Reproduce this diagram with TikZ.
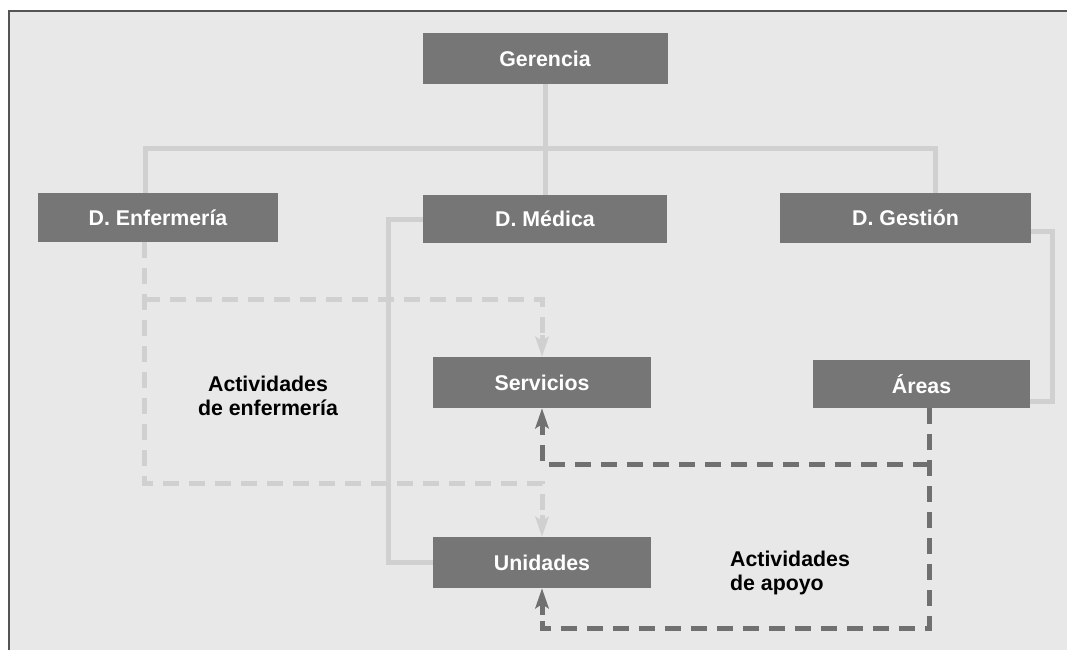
\documentclass[tikz,border=0pt]{standalone}
\usepackage{fontspec}
\setmainfont{Liberation Sans}
\usetikzlibrary{arrows.meta}
\definecolor{bg}{RGB}{232,232,232}
\definecolor{boxc}{RGB}{118,118,118}
\definecolor{lightl}{RGB}{208,208,208}
\definecolor{darkl}{RGB}{112,112,112}
\definecolor{framec}{RGB}{85,85,85}
\begin{document}
\begin{tikzpicture}[x=0.75pt,y=-0.75pt,
  box/.style={fill=boxc,draw=none,text=white,font=\fontsize{16}{18}\selectfont\bfseries,inner sep=0pt,anchor=center},
  tree/.style={draw=lightl,line width=3.75pt},
  ldash/.style={draw=lightl,line width=3.75pt,dash pattern=on 12pt off 7.5pt},
  ddash/.style={draw=darkl,line width=3.75pt,dash pattern=on 12pt off 7.5pt},
  larrow/.style={-{Stealth[length=15pt,width=10pt,inset=3pt]}},
  lbl/.style={font=\fontsize{16}{18}\selectfont\bfseries,text=black,inner sep=0pt}]
\useasboundingbox (0,0) rectangle (1067,650);
\fill[white] (0,0) rectangle (1067,650);
\fill[bg] (9,11) rectangle (1067,650);
\draw[framec,line width=1.5pt] (9,650) -- (9,11) -- (1067,11);

% nodes
\node[box,minimum width=245*0.75pt,minimum height=51*0.75pt] (ger) at (545,58.5) {Gerencia};
\node[box,minimum width=240*0.75pt,minimum height=49*0.75pt] (enf) at (158,217.5) {D. Enfermería};
\node[box,minimum width=244*0.75pt,minimum height=48*0.75pt] (med) at (545,219) {D. Médica};
\node[box,minimum width=251*0.75pt,minimum height=50*0.75pt] (ges) at (905.5,218) {D. Gestión};
\node[box,minimum width=218*0.75pt,minimum height=51*0.75pt] (ser) at (542,382.5) {Servicios};
\node[box,minimum width=217*0.75pt,minimum height=48*0.75pt] (are) at (921.5,384) {Áreas};
\node[box,minimum width=218*0.75pt,minimum height=51*0.75pt] (uni) at (542,562.5) {Unidades};

\coordinate (bar) at (545,148);
\coordinate (enfT) at (145,193);
\coordinate (gesT) at (935,193);

% tree
\begin{scope}[on background layer/.style={}]
\draw[tree] (ger.south) -- (bar) -- (med.north);
\draw[tree] (enf.north -| enfT) |- (bar) -| (ges.north -| gesT);
\draw[tree] (med.west) -- ++(-34,0) |- (uni.west);
\draw[tree] ([yshift=-13*0.75pt]ges.east) -- ++(21,0) |- ([yshift=-17*0.75pt]are.east);
\end{scope}

% light dashed
\coordinate (e1) at (144,299);
\coordinate (e2) at (144,483);
\draw[ldash] (enf.south -| e1) -- (e2) -- (e2 -| uni.north) -- ([yshift=12pt]uni.north);
\draw[lightl,line width=3.75pt,larrow] ([yshift=16pt]uni.north) -- (uni.north);
\draw[ldash] (e1) -- (e1 -| ser.north) -- ([yshift=12pt]ser.north);
\draw[lightl,line width=3.75pt,larrow] ([yshift=16pt]ser.north) -- (ser.north);

% dark dashed
\coordinate (a1) at (929,408);
\coordinate (a2) at (929,464);
\coordinate (a3) at (929,628);
\draw[ddash] (are.south -| a1) -- (a3) -- (a3 -| uni.south) -- ([yshift=-14pt]uni.south);
\draw[darkl,line width=3.75pt,larrow] ([yshift=-20pt]uni.south) -- (uni.south);
\draw[ddash] (a2) -- (a2 -| ser.south) -- ([yshift=-14pt]ser.south);
\draw[darkl,line width=3.75pt,larrow] ([yshift=-20pt]ser.south) -- (ser.south);

% labels
\node[lbl,align=center] (l1) at (268,396) {Actividades\\de enfermería};
\node[lbl,align=left] (l2) at (790,573) {Actividades\\de apoyo};
\end{tikzpicture}
\end{document}
